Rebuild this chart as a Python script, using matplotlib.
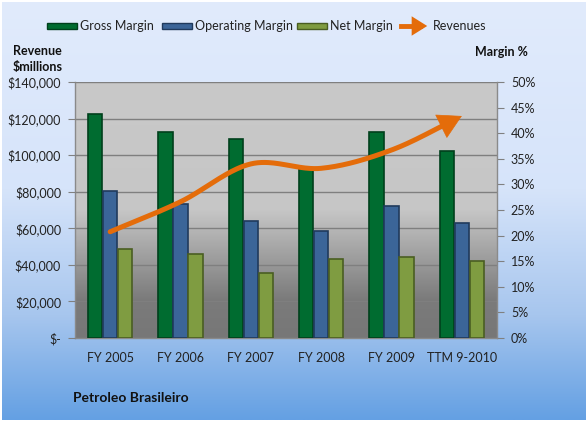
import numpy as np
import matplotlib
matplotlib.use("Agg")
import matplotlib.pyplot as plt
from matplotlib.patches import Rectangle, FancyArrowPatch
from matplotlib.colors import LinearSegmentedColormap
from matplotlib.ticker import FuncFormatter, MultipleLocator

plt.rcParams['font.family'] = ['Lato', 'DejaVu Sans']

categories = ["FY 2005", "FY 2006", "FY 2007", "FY 2008", "FY 2009", "TTM 9-2010"]
gross_margin = [43.7, 40.2, 38.9, 33.0, 40.2, 36.6]
operating_margin = [28.8, 26.2, 22.9, 20.9, 25.8, 22.5]
net_margin = [17.4, 16.5, 12.7, 15.4, 15.9, 15.1]
revenues = [58100, 74500, 95200, 92800, 102800, 121400]

W, H = 588, 423
fig = plt.figure(figsize=(W / 100, H / 100), dpi=100)
fig.patch.set_facecolor('white')

# chart-area background gradient
bg = fig.add_axes([2 / W, 3 / H, 584 / W, 418 / H], zorder=-10)
bg_cmap = LinearSegmentedColormap.from_list(
    'bg', [(0.0, '#e1ebfc'), (0.45, '#d6e4fa'), (0.75, '#a7c6ee'), (1.0, '#64a0e3')])
bg.imshow(np.linspace(0, 1, 256).reshape(-1, 1), aspect='auto', cmap=bg_cmap,
          extent=[0, 1, 1, 0])
bg.set_xlim(0, 1); bg.set_ylim(1, 0)
bg.axis('off')

x0, x1 = 75, 497
y0, y1 = 82, 338
ax = fig.add_axes([x0 / W, 1 - y1 / H, (x1 - x0) / W, (y1 - y0) / H])
ax.set_facecolor('none')

# plot-area gradient
pa_cmap = LinearSegmentedColormap.from_list(
    'pa', [(0.0, '#c9c9c9'), (0.5, '#c6c6c6'), (0.85, '#7b7b7b'), (1.0, '#777777')])
ax.imshow(np.linspace(0, 1, 256).reshape(-1, 1), aspect='auto', cmap=pa_cmap,
          extent=[0, 1, 0, 1], transform=ax.transAxes, zorder=0)

xs = np.arange(len(categories))
bw = 0.213
series = [
    (gross_margin, '#006c30', '#00401c', -bw),
    (operating_margin, '#3b6598', '#203a5c', 0.0),
    (net_margin, '#7f9c41', '#4a5e22', bw),
]
for vals, fc, ec, off in series:
    ax.bar(xs + off, vals, width=bw * 0.97, color=fc, edgecolor=ec, linewidth=1.2, zorder=3)

ax.set_xlim(-0.5, len(categories) - 0.5)
ax.set_ylim(0, 50)
ax.set_xticks(xs)
ax.set_xticklabels(categories)
ax.tick_params(axis='x', length=0, labelsize=9, labelcolor='#222222', pad=10)
ax.spines['top'].set_visible(False)
for s in ['left', 'right', 'bottom']:
    ax.spines[s].set_color('#8a8a8a')
    ax.spines[s].set_linewidth(1.0)

for v in np.arange(20000, 140001, 20000):
    ax.axhline(v / 140000 * 50, color='#7f7f7f', lw=1.0, zorder=1)

# revenue axis (left)
ax2 = ax.twinx()
ax2.set_ylim(0, 140000)
ax2.yaxis.tick_left()
ax2.yaxis.set_major_locator(MultipleLocator(20000))
ax2.yaxis.set_major_formatter(FuncFormatter(lambda v, p: "$-" if v == 0 else f"${v:,.0f}"))
ax2.tick_params(axis='y', direction='out', length=5, color='#808080', labelsize=9,
                labelcolor='#222222', pad=5)
for s in ax2.spines.values():
    s.set_visible(False)

# margin axis (right)
ax.yaxis.tick_right()
ax.yaxis.set_major_locator(MultipleLocator(5))
ax.yaxis.set_major_formatter(FuncFormatter(lambda v, p: f"{v:.0f}%"))
ax.tick_params(axis='y', direction='out', length=5, color='#808080', labelsize=9,
               labelcolor='#222222', pad=5)


def catmull(px, py, n=40):
    px = np.asarray(px, float); py = np.asarray(py, float)
    P = np.column_stack([px, py])
    P = np.vstack([P[0] - (P[1] - P[0]), P, P[-1] + (P[-1] - P[-2])])
    out = []
    for i in range(1, len(P) - 2):
        p0, p1, p2, p3 = P[i - 1], P[i], P[i + 1], P[i + 2]
        t = np.linspace(0, 1, n, endpoint=False)[:, None]
        c1 = p1 + (p2 - p0) / 6
        c2 = p2 - (p3 - p1) / 6
        b = ((1 - t) ** 3) * p1 + 3 * ((1 - t) ** 2) * t * c1 + 3 * (1 - t) * t ** 2 * c2 + t ** 3 * p2
        out.append(b)
    out.append(P[-2][None, :])
    o = np.vstack(out)
    return o[:, 0], o[:, 1]


orange = '#e46c0a'
sx, sy = catmull(xs, revenues)
ax2.plot(sx[:-5], sy[:-5], color=orange, lw=3.6, solid_capstyle='round', zorder=5)
ax2.annotate('', xy=(sx[-1], sy[-1]), xytext=(sx[-7], sy[-7]),
             arrowprops=dict(arrowstyle='-|>,head_length=0.8,head_width=0.45',
                             color=orange, lw=0.5, mutation_scale=20, shrinkA=0, shrinkB=0),
             zorder=6)

# titles
fig.text(13 / W, 1 - 51 / H, "Revenue", fontsize=9, fontweight='bold', ha='left', va='center', color='#111111')
fig.text(13 / W, 1 - 67 / H, "$millions", fontsize=9, fontweight='bold', ha='left', va='center', color='#111111')
fig.text(528 / W, 1 - 52 / H, "Margin %", fontsize=9, fontweight='bold', ha='right', va='center', color='#111111')
fig.text(73 / W, 1 - 398 / H, "Petroleo Brasileiro", fontsize=10, fontweight='bold', ha='left', va='center', color='#111111')

# legend
ly = 1 - 26 / H
leg_items = [(47, 'Gross Margin', '#006c30', '#00401c'),
             (162, 'Operating Margin', '#3b6598', '#203a5c'),
             (297, 'Net Margin', '#7f9c41', '#4a5e22')]
for lx, lab, fc, ec in leg_items:
    fig.add_artist(Rectangle((lx / W, ly - 3 / H), 30 / W, 6 / H, transform=fig.transFigure,
                             facecolor=fc, edgecolor=ec, lw=1))
    fig.text((lx + 33) / W, ly, lab, fontsize=9, ha='left', va='center', color='#222222')
fig.add_artist(plt.Line2D([401 / W, 420 / W], [ly, ly], color=orange, lw=3.5, transform=fig.transFigure))
fig.add_artist(FancyArrowPatch((414 / W, ly), (430 / W, ly), transform=fig.transFigure,
               arrowstyle='-|>,head_length=0.8,head_width=0.5', mutation_scale=14, color=orange, lw=0))
fig.text(433 / W, ly, 'Revenues', fontsize=9, ha='left', va='center', color='#222222')

fig.savefig('out.png', dpi=100)
